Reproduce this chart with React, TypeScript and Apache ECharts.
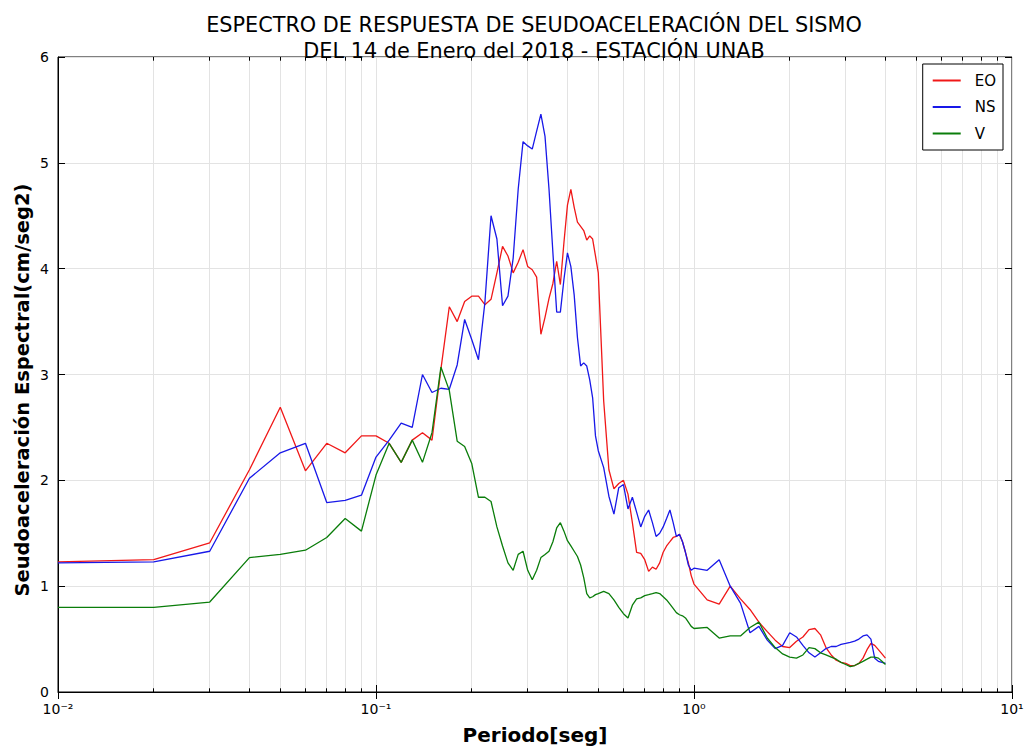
import React, { useEffect, useRef } from "react";
import * as echarts from "echarts";

// Period (s)
const periods = [
  0.01, 0.02, 0.03, 0.04, 0.05, 0.06, 0.07, 0.08, 0.09, 0.10,
  0.11, 0.12, 0.13, 0.14, 0.15, 0.16, 0.17, 0.18, 0.19, 0.20,
  0.21, 0.22, 0.23, 0.24, 0.25, 0.26, 0.27, 0.28, 0.29, 0.30,
  0.31, 0.32, 0.33, 0.34, 0.35, 0.36, 0.37, 0.38, 0.39, 0.40,
  0.41, 0.42, 0.43, 0.44, 0.45, 0.46, 0.47, 0.48, 0.49, 0.50,
  0.52, 0.54, 0.56, 0.58, 0.60, 0.62, 0.64, 0.66, 0.68, 0.70,
  0.72, 0.74, 0.76, 0.78, 0.80, 0.82, 0.84, 0.86, 0.88, 0.90,
  0.92, 0.94, 0.96, 0.98, 1.00,
  1.1, 1.2, 1.3, 1.4, 1.5, 1.6, 1.7, 1.8, 1.9, 2.0,
  2.1, 2.2, 2.3, 2.4, 2.5, 2.6, 2.7, 2.8, 2.9, 3.0,
  3.1, 3.2, 3.3, 3.4, 3.5, 3.6, 3.7, 3.8, 3.9, 4.0,
];

const eoValues = [
  1.23, 1.25, 1.41, 2.10, 2.69, 2.09, 2.35, 2.26, 2.42, 2.42,
  2.35, 2.17, 2.38, 2.45, 2.38, 3.05, 3.64, 3.50, 3.69, 3.74,
  3.74, 3.66, 3.71, 3.96, 4.21, 4.12, 3.96, 4.06, 4.18, 4.02,
  3.99, 3.92, 3.38, 3.54, 3.72, 3.86, 4.07, 3.85, 4.25, 4.60,
  4.75, 4.58, 4.44, 4.40, 4.36, 4.27, 4.31, 4.28, 4.12, 3.96,
  2.75, 2.10, 1.92, 1.97, 2.00, 1.87, 1.60, 1.32, 1.31, 1.25,
  1.14, 1.18, 1.16, 1.22, 1.32, 1.38, 1.42, 1.46, 1.47, 1.49,
  1.42, 1.32, 1.22, 1.10, 1.02,
  0.87, 0.83, 1.00, 0.88, 0.78, 0.66, 0.57, 0.49, 0.43, 0.42,
  0.48, 0.52, 0.59, 0.60, 0.54, 0.42, 0.35, 0.30, 0.28, 0.27,
  0.25, 0.25, 0.27, 0.32, 0.40, 0.46, 0.44, 0.40, 0.36, 0.32,
];

const nsValues = [
  1.22, 1.23, 1.33, 2.02, 2.26, 2.35, 1.79, 1.81, 1.86, 2.22,
  2.38, 2.54, 2.50, 3.00, 2.83, 2.87, 2.86, 3.09, 3.52, 3.33,
  3.14, 3.68, 4.50, 4.28, 3.65, 3.74, 4.10, 4.75, 5.20, 5.16,
  5.13, 5.30, 5.46, 5.25, 4.75, 4.15, 3.59, 3.59, 3.90, 4.15,
  4.02, 3.75, 3.35, 3.08, 3.11, 3.08, 2.95, 2.78, 2.42, 2.28,
  2.12, 1.85, 1.68, 1.93, 1.96, 1.73, 1.84, 1.70, 1.56, 1.66,
  1.72, 1.60, 1.47, 1.50, 1.56, 1.64, 1.72, 1.60, 1.47, 1.49,
  1.42, 1.32, 1.20, 1.15, 1.17,
  1.15, 1.25, 1.00, 0.84, 0.56, 0.62, 0.49, 0.41, 0.44, 0.56,
  0.52, 0.44, 0.37, 0.33, 0.37, 0.41, 0.43, 0.43, 0.45, 0.46,
  0.47, 0.48, 0.50, 0.53, 0.54, 0.50, 0.32, 0.29, 0.28, 0.27,
];

const vValues = [
  0.80, 0.80, 0.85, 1.27, 1.30, 1.34, 1.46, 1.64, 1.52, 2.05,
  2.35, 2.17, 2.38, 2.17, 2.45, 3.07, 2.85, 2.37, 2.32, 2.16,
  1.84, 1.84, 1.80, 1.56, 1.38, 1.22, 1.15, 1.30, 1.33, 1.15,
  1.06, 1.15, 1.27, 1.30, 1.33, 1.42, 1.55, 1.60, 1.52, 1.43,
  1.38, 1.33, 1.28, 1.20, 1.08, 0.93, 0.89, 0.90, 0.92, 0.93,
  0.95, 0.93, 0.87, 0.80, 0.74, 0.70, 0.82, 0.88, 0.89, 0.91,
  0.92, 0.93, 0.94, 0.93, 0.90, 0.87, 0.83, 0.79, 0.75, 0.73,
  0.72, 0.70, 0.66, 0.62, 0.60,
  0.61, 0.51, 0.53, 0.53, 0.61, 0.66, 0.51, 0.42, 0.36, 0.33,
  0.32, 0.35, 0.42, 0.41, 0.37, 0.35, 0.33, 0.31, 0.28, 0.26,
  0.24, 0.25, 0.27, 0.29, 0.31, 0.33, 0.33, 0.32, 0.29, 0.26,
];

const seriesNames = ["EO", "NS", "V"];
const seriesColors = ["#f01818", "#1818e8", "#0a7d0a"];
const xTickLabels: Record<string, string> = {
  "-2": "10\u207B\u00B2",
  "-1": "10\u207B\u00B9",
  "0": "10\u2070",
  "1": "10\u00B9",
};
const decades = [0.01, 0.1, 1];
const minorMultipliers = [2, 3, 4, 5, 6, 7, 8, 9];

const titleText =
  "ESPECTRO DE RESPUESTA DE SEUDOACELERACIÓN DEL SISMO\nDEL 14 de Enero del 2018 - ESTACIÓN UNAB";
const xName = "Periodo[seg]";
const yName = "Seudoaceleración Espectral(cm/seg2)";

const FONT = "DejaVu Sans";

export default function App() {
  const ref = useRef<HTMLDivElement>(null);

  useEffect(() => {
    document.body.style.margin = "0";
    const chart = echarts.init(ref.current!, null, { renderer: "svg" });

    const minorX: number[] = [];
    decades.forEach((d) => minorMultipliers.forEach((m) => minorX.push(+(d * m).toPrecision(6))));

    const gridLineStyle = { color: "#e3e3e3", width: 1, type: "solid" as const };
    const tickStyle = { color: "#000", width: 1, type: "solid" as const };

    const markData: any[] = [];
    minorX.forEach((x) => {
      markData.push({ xAxis: x, lineStyle: gridLineStyle });
    });
    minorX.forEach((x) => {
      markData.push([
        { coord: [x, 0], lineStyle: tickStyle },
        { coord: [x, 0.035] },
      ]);
      markData.push([
        { coord: [x, 6], lineStyle: tickStyle },
        { coord: [x, 5.965] },
      ]);
    });

    const valueSets = [eoValues, nsValues, vValues];

    const option: any = {
      animation: false,
      backgroundColor: "#fff",
      title: {
        text: titleText,
        left: 529,
        textAlign: "center",
        top: 7,
        textStyle: {
          fontFamily: FONT,
          fontSize: 20.8,
          fontWeight: "normal",
          color: "#000",
          lineHeight: 26,
        },
      },
      graphic: [
        {
          type: "text",
          x: 22,
          y: 390,
          rotation: Math.PI / 2,
          silent: true,
          style: {
            text: yName,
            fontFamily: FONT,
            fontSize: 19.5,
            fontWeight: "bold",
            fill: "#000",
            align: "center",
            verticalAlign: "middle",
          },
        },
      ],
      legend: {
        data: seriesNames,
        orient: "vertical",
        right: 28,
        top: 64,
        backgroundColor: "#fff",
        borderColor: "#000",
        borderWidth: 1,
        borderRadius: 0,
        padding: [9, 7, 9, 10],
        itemWidth: 28,
        itemHeight: 2,
        itemGap: 11.5,
        icon: "rect",
        textStyle: {
          fontFamily: FONT,
          fontSize: 15,
          color: "#000",
          padding: [0, 0, 0, 9],
        },
      },
      grid: {
        left: 58,
        right: 19,
        top: 57,
        bottom: 62,
        show: true,
        borderColor: "#000",
        borderWidth: 1,
        backgroundColor: "#fff",
      },
      xAxis: [
        {
          type: "log",
          logBase: 10,
          min: 0.01,
          max: 10,
          position: "bottom",
          name: xName,
          nameLocation: "middle",
          nameGap: 33,
          nameTextStyle: {
            fontFamily: FONT,
            fontSize: 20,
            fontWeight: "bold",
            color: "#000",
          },
          axisLine: { show: true, lineStyle: { color: "#000", width: 1 } },
          axisTick: { show: true, inside: true, length: 7, lineStyle: { color: "#000" } },
          axisLabel: {
            fontFamily: FONT,
            fontSize: 14,
            color: "#000",
            margin: 10,
            showMinLabel: true,
            showMaxLabel: true,
            formatter: (val: number) => {
              const e = Math.round(Math.log10(val));
              return xTickLabels[String(e)] ?? "";
            },
          },
          splitLine: { show: true, lineStyle: gridLineStyle },
        },
        {
          type: "log",
          logBase: 10,
          min: 0.01,
          max: 10,
          position: "top",
          axisLine: { show: false },
          axisTick: { show: true, inside: true, length: 7, lineStyle: { color: "#000" } },
          axisLabel: { show: false },
          splitLine: { show: false },
        },
      ],
      yAxis: [
        {
          type: "value",
          min: 0,
          max: 6,
          interval: 1,
          position: "left",
          axisLine: { show: true, lineStyle: { color: "#000", width: 1 } },
          axisTick: { show: true, inside: true, length: 7, lineStyle: { color: "#000" } },
          axisLabel: { fontFamily: FONT, fontSize: 14, color: "#000", margin: 9 },
          splitLine: { show: true, lineStyle: gridLineStyle },
        },
        {
          type: "value",
          min: 0,
          max: 6,
          interval: 1,
          position: "right",
          axisLine: { show: false },
          axisTick: { show: true, inside: true, length: 7, lineStyle: { color: "#000" } },
          axisLabel: { show: false },
          splitLine: { show: false },
        },
      ],
      series: [
        {
          type: "line",
          name: "_grid",
          data: [],
          z: 1,
          silent: true,
          markLine: {
            silent: true,
            z: 1,
            symbol: ["none", "none"],
            label: { show: false },
            emphasis: { disabled: true },
            data: markData,
          },
        },
        ...seriesNames.map((name, si) => ({
          type: "line",
          name,
          xAxisIndex: 0,
          yAxisIndex: 0,
          showSymbol: false,
          symbol: "none",
          z: 10,
          data: periods.map((p, i) => [p, valueSets[si][i]]),
          lineStyle: { color: seriesColors[si], width: 1.3 },
          itemStyle: { color: seriesColors[si] },
          emphasis: { disabled: true },
        })),
      ],
    };

    chart.setOption(option);
    return () => chart.dispose();
  }, []);

  return <div ref={ref} style={{ width: 1031, height: 754 }} />;
}
